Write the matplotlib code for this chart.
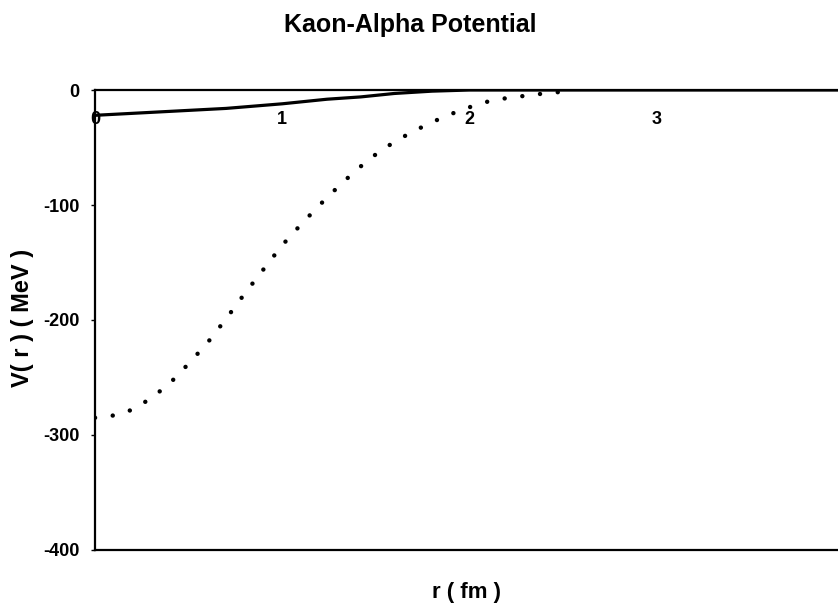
import matplotlib
matplotlib.use("Agg")
import matplotlib.pyplot as plt

plt.rcParams['font.family'] = ['Liberation Sans', 'DejaVu Sans']
plt.rcParams['font.weight'] = 'bold'

r_real = [0.0, 0.1, 0.2, 0.3, 0.4, 0.5, 0.6, 0.7, 0.8, 0.9, 1.0, 1.1, 1.2, 1.3,
          1.4, 1.5, 1.6, 1.7, 1.8, 1.9, 2.0, 2.1, 2.2, 2.3, 2.4, 2.5, 2.55]
v_real = [-285, -283, -278, -268, -255, -238, -220, -199, -177, -156, -135, -117,
          -100, -84, -69, -56, -45, -36, -28, -21, -15, -10, -7, -5, -3, -1.5, -1]

# solid curve
r_imag = [0.0, 0.35, 0.7, 1.0, 1.24, 1.42, 1.6, 1.8, 2.0, 3.97]
v_imag = [-22, -19, -16, -12, -8, -6, -3, -1, 0, 0]

x_ticks = [0, 1, 2, 3]
x_tick_labels = ['0', '1', '2', '3']
y_ticks = [0, -100, -200, -300, -400]

fig = plt.figure(figsize=(8.38, 6.09), dpi=100)
ax = fig.add_axes([0.1134, 0.0969, 0.8866, 0.7553])

ax.plot(r_real, v_real, color='black', lw=3.2,
        linestyle=(0, (0.01, 4.0)), dash_capstyle='round')
ax.plot(r_imag, v_imag, color='black', lw=2.3)

ax.set_xlim(0, 3.97)
ax.set_ylim(-400, 0)

ax.spines['right'].set_visible(False)
for s in ['left', 'top', 'bottom']:
    ax.spines[s].set_linewidth(1.6)

ax.set_yticks(y_ticks)
ax.set_yticklabels([str(v) for v in y_ticks], fontsize=13, fontweight='bold')
ax.tick_params(axis='y', length=3, width=1, pad=8)
ax.tick_params(axis='x', bottom=False, labelbottom=False, top=False, labeltop=False)

# x tick labels sit just under the zero line
for t, lab in zip(x_ticks, x_tick_labels):
    ax.annotate(lab, xy=(t, 0), xytext=(0, -21), textcoords='offset points',
                ha='center', va='center', fontsize=13, fontweight='bold')

ax.set_xlabel('r ( fm )', fontsize=16, fontweight='bold')
ax.xaxis.set_label_coords(0.5, -0.092)
ax.xaxis.label.set_va('center')
ax.set_ylabel('V( r ) ( MeV )', fontsize=17, fontweight='bold')
ax.yaxis.label.set_va('center')
ax.yaxis.set_label_coords(-0.097, 0.505)

fig.text(0.490, 0.959, 'Kaon-Alpha Potential', ha='center', va='center',
         fontsize=18, fontweight='bold')

fig.savefig('out.png', dpi=100)
